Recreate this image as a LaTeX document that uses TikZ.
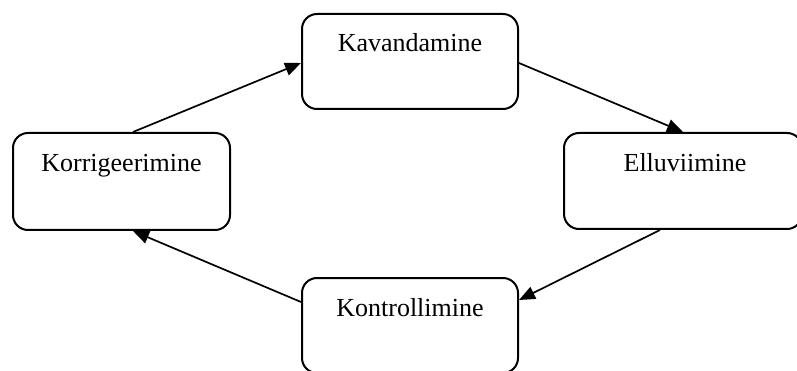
\documentclass[tikz,border=0pt]{standalone}
\usepackage{fontspec}
\setmainfont{Liberation Serif}
\usetikzlibrary{arrows.meta}
\tikzset{
  stagebox/.style={draw=black, line width=2pt, rounded corners=15pt, fill=white, inner sep=0pt},
  lbl/.style={font=\fontsize{26}{30}\selectfont, inner sep=0pt, anchor=base},
  flow/.style={line width=1.7pt, -{Triangle[length=16pt,width=13pt]}}
}
\begin{document}
\begin{tikzpicture}[x=1pt,y=-1pt]
\useasboundingbox (0,0) rectangle (797,371);
\fill[white] (0,0) rectangle (797,371);
\clip (0,0) rectangle (797,371);
\node[stagebox, minimum width=216pt, minimum height=95pt] (kav) at (410,61.5) {};
\node[stagebox, minimum width=217pt, minimum height=97pt] (korr) at (121.5,181.5) {};
\node[stagebox, minimum width=238pt, minimum height=96pt] (ellu) at (683,181) {};
\node[stagebox, minimum width=216pt, minimum height=95pt] (kont) at (410,325.5) {};
\node[lbl] (kavt) at ([yshift=-39pt]kav.north) {Kavandamine};
\node[lbl] (korrt) at ([yshift=-40pt]korr.north) {Korrigeerimine};
\node[lbl] (ellut) at ([xshift=2pt,yshift=-40pt]ellu.north) {Elluviimine};
\node[lbl] (kontt) at ([yshift=-39pt]kont.north) {Kontrollimine};
\draw[flow] ([xshift=11.5pt]korr.north) -- ([yshift=-1.5pt]kav.west);
\draw[flow] ([yshift=-1.5pt]kav.east) -- (ellu.north);
\draw[flow] ([xshift=-23pt]ellu.south) -- ([yshift=25.5pt]kont.east);
\draw[flow] ([yshift=23.5pt]kont.west) -- ([xshift=11.5pt]korr.south);
\end{tikzpicture}
\end{document}
